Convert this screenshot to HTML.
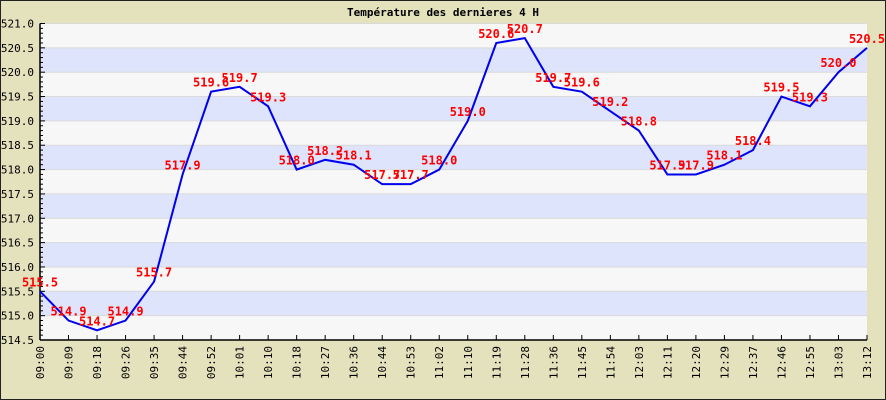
<!DOCTYPE html>
<html><head><meta charset="utf-8"><style>
body{margin:0;background:#fff}
svg{display:block}
text{font-family:"DejaVu Sans Mono","Liberation Mono",monospace}
</style></head><body>
<svg id="c" width="886" height="400" xmlns="http://www.w3.org/2000/svg">
<rect x="0.5" y="0.5" width="885" height="399" fill="#e4e1bd" stroke="#222"/>
<text x="443" y="16" text-anchor="middle" font-size="11" font-weight="bold" fill="#000">Température des dernieres 4 H</text>
<g id="bands"></g><g id="grid"></g><g id="axes"></g><g id="series"></g><g id="labels"></g>
</svg>
<script>
const categories=["09:00","09:09","09:18","09:26","09:35","09:44","09:52","10:01","10:10","10:18","10:27","10:36","10:44","10:53","11:02","11:10","11:19","11:28","11:36","11:45","11:54","12:03","12:11","12:20","12:29","12:37","12:46","12:55","13:03","13:12"];
const values=[515.5,514.9,514.7,514.9,515.7,517.9,519.6,519.7,519.3,518.0,518.2,518.1,517.7,517.7,518.0,519.0,520.6,520.7,519.7,519.6,519.2,518.8,517.9,517.9,518.1,518.4,519.5,519.3,520.0,520.5];
const yTicks=[514.5,515.0,515.5,516.0,516.5,517.0,517.5,518.0,518.5,519.0,519.5,520.0,520.5,521.0];
const NS="http://www.w3.org/2000/svg";
const L=40,R=867,T=23.5,B=340,ymin=514.5,ymax=521.0;
const x=i=>L+(R-L)*i/(categories.length-1);
const y=v=>B-(v-ymin)/(ymax-ymin)*(B-T);
function mk(p,tag,a){const e=document.createElementNS(NS,tag);for(const k in a)e.setAttribute(k,a[k]);document.getElementById(p).appendChild(e);return e;}
for(let i=0;i<yTicks.length-1;i++){
 const r=mk('bands','rect',{x:L,y:y(yTicks[i+1]),width:R-L,height:y(yTicks[i])-y(yTicks[i+1]),fill:i%2==0?'#f7f7f7':'#dde4fc'});
 
 
}
yTicks.forEach(v=>{
 const g=mk('grid','line',{x1:L,x2:R,y1:y(v),y2:y(v),stroke:'#dadada'});
 
 
 const t=mk('axes','text',{x:34,y:y(v)+4,'text-anchor':'end','font-size':'11',fill:'#000'});
 t.textContent=v.toFixed(1);
 
 
});
for(let k=0;k<=65;k++){
 const v=ymin+k*0.1;const major=k%5==0;
 mk('axes','line',{x1:L,x2:L+(major?5:3),y1:y(v),y2:y(v),stroke:'#000'});
}
mk('axes','line',{x1:L,x2:L,y1:T,y2:B,stroke:'#000','stroke-width':1.5});
mk('axes','line',{x1:L,x2:R,y1:B,y2:B,stroke:'#000','stroke-width':1.5});
categories.forEach((c,i)=>{
 mk('axes','line',{x1:x(i),x2:x(i),y1:B,y2:B-5,stroke:'#000'});
 const t=mk('axes','text',{transform:`translate(${x(i)+4},${B+6}) rotate(-90)`,'text-anchor':'end','font-size':'11',fill:'#000'});
 t.textContent=c;
 
 
});
const pl=mk('series','polyline',{points:values.map((v,i)=>x(i)+','+y(v)).join(' '),fill:'none',stroke:'#0000ee','stroke-width':2});


values.forEach((v,i)=>{
 const t=mk('labels','text',{x:x(i),y:y(v)-5,'text-anchor':'middle','font-size':'12','font-weight':'bold',fill:'#ff0000'});
 t.textContent=v.toFixed(1);
 
 
});
</script>
</body></html>
